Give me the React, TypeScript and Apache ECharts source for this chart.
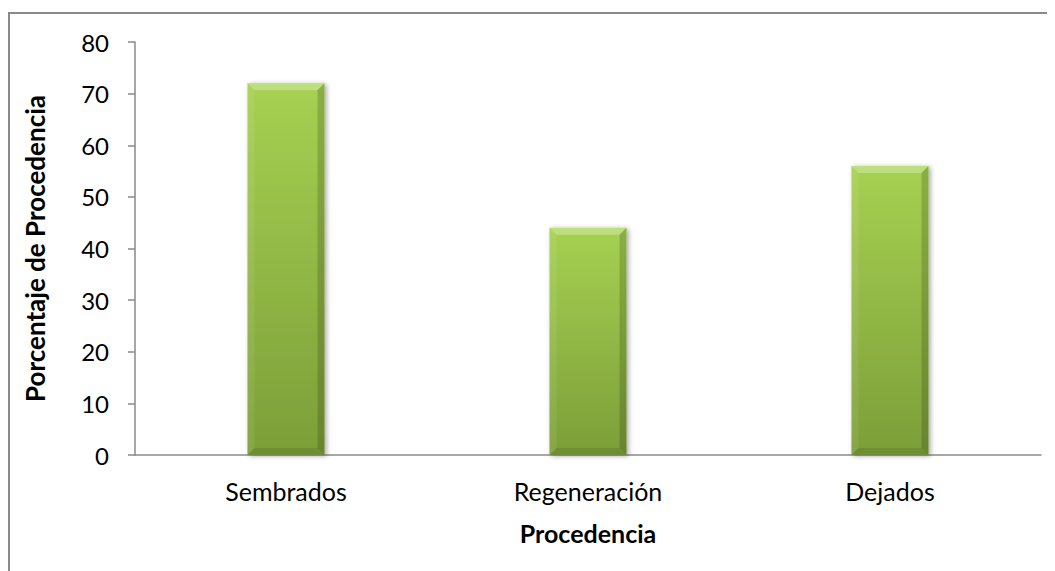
import React, { useEffect, useRef } from "react";
import * as echarts from "echarts";

const categories = ["Sembrados", "Regeneración", "Dejados"];
const values = [72, 44, 56];
const yTicks = { min: 0, max: 80, interval: 10 };
const yAxisTitle = "Porcentaje de Procedencia";
const xAxisTitle = "Procedencia";

const FONT = "Lato, 'Open Sans', sans-serif";

export default function App() {
  const ref = useRef<HTMLDivElement>(null);
  useEffect(() => {
    if (!ref.current) return;
    const chart = echarts.init(ref.current, undefined, { renderer: "svg" });
    const renderItem = (params: any, api: any) => {
      const idx = api.value(0);
      const val = api.value(1);
      const top = api.coord([idx, val]);
      const base = api.coord([idx, 0]);
      const w = api.size([1, 0])[0] * 0.255;
      const x0 = top[0] - w / 2;
      const x1 = top[0] + w / 2;
      const y0 = top[1];
      const y1 = base[1];
      const b = 7;
      return {
        type: "group",
        children: [
          {
            type: "rect",
            shape: { x: x0, y: y0, width: w, height: y1 - y0 },
            style: {
              fill: new echarts.graphic.LinearGradient(0, 0, 0, 1, [
                { offset: 0, color: "#A6D152" },
                { offset: 1, color: "#7C9E38" },
              ]),
              shadowBlur: 5,
              shadowColor: "rgba(0,0,0,0.35)",
              shadowOffsetX: 2,
              shadowOffsetY: 1,
            },
          },
          {
            type: "polygon",
            shape: { points: [[x0, y0], [x1, y0], [x1 - b, y0 + b], [x0 + b, y0 + b]] },
            style: { fill: "rgba(255,255,255,0.28)" },
          },
          {
            type: "polygon",
            shape: { points: [[x0, y0], [x0 + b, y0 + b], [x0 + b, y1 - b], [x0, y1]] },
            style: { fill: "rgba(255,255,255,0.08)" },
          },
          {
            type: "polygon",
            shape: { points: [[x1, y0], [x1, y1], [x1 - b, y1 - b], [x1 - b, y0 + b]] },
            style: { fill: "rgba(0,0,0,0.16)" },
          },
          {
            type: "polygon",
            shape: { points: [[x0, y1], [x1, y1], [x1 - b, y1 - b], [x0 + b, y1 - b]] },
            style: { fill: "rgba(0,0,0,0.10)" },
          },
        ],
      };
    };
    chart.setOption({
      animation: false,
      backgroundColor: "#fff",
      graphic: [
        {
          type: "rect",
          shape: { x: 1, y: 5, width: 1100, height: 600 },
          style: { fill: "none", stroke: "#8a8a8a", lineWidth: 2 },
          silent: true,
        },
      ],
      grid: { left: 127, top: 34, right: 14, bottom: 116, containLabel: false },
      xAxis: {
        type: "category",
        data: categories,
        axisLine: { show: true, lineStyle: { color: "#8a8a8a", width: 1.5 } },
        axisTick: { show: false },
        axisLabel: { color: "#000", fontSize: 25, fontFamily: FONT, margin: 23 },
        name: xAxisTitle,
        nameLocation: "middle",
        nameGap: 65,
        nameTextStyle: { color: "#000", fontSize: 25, fontWeight: "bold", fontFamily: FONT },
      },
      yAxis: {
        type: "value",
        min: yTicks.min,
        max: yTicks.max,
        interval: yTicks.interval,
        axisLine: { show: true, lineStyle: { color: "#8a8a8a", width: 1.5 } },
        axisTick: { show: true, length: 7, lineStyle: { color: "#8a8a8a", width: 1.5 } },
        splitLine: { show: false },
        axisLabel: { color: "#000", fontSize: 24, fontFamily: FONT, margin: 26 },
        name: yAxisTitle,
        nameLocation: "middle",
        nameGap: 87,
        nameTextStyle: { color: "#000", fontSize: 26, fontWeight: "bold", fontFamily: FONT },
      },
      series: [
        {
          type: "custom",
          renderItem,
          encode: { x: 0, y: 1 },
          data: values.map((v, i) => [i, v]),
        },
      ],
    });
    return () => chart.dispose();
  }, []);
  return <div ref={ref} style={{ width: 1047, height: 563 }} />;
}
